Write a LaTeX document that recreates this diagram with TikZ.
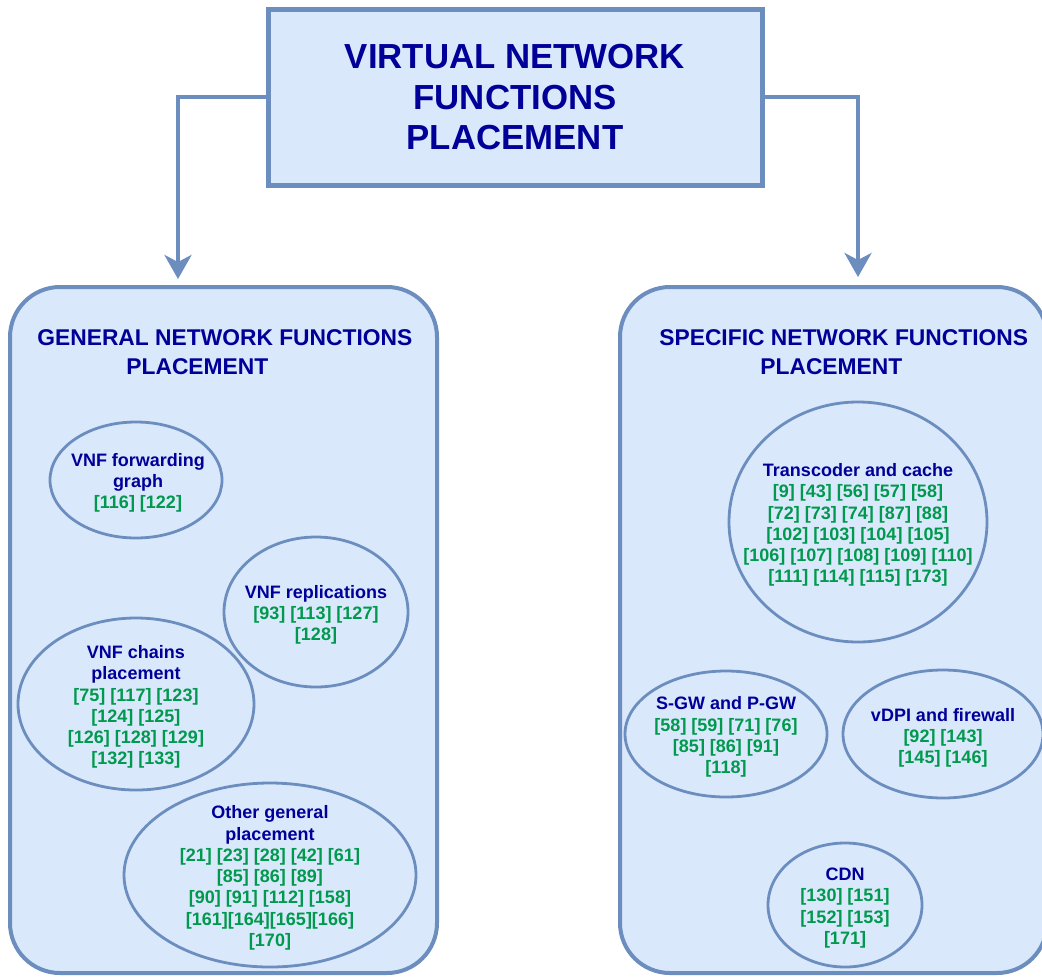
\documentclass[tikz,border=0pt]{standalone}
\usepackage{fontspec}
\setmainfont{Liberation Sans}
\usetikzlibrary{shapes.geometric,arrows.meta}

\definecolor{boxfill}{HTML}{DAE8FC}
\definecolor{boxline}{HTML}{6C8EBF}
\definecolor{titleblue}{HTML}{000099}
\definecolor{refgreen}{HTML}{00994D}
\newcommand{\reflist}[1]{\textcolor{refgreen}{#1}}

\tikzset{bigbox/.style = {rectangle, draw = boxline, fill = boxfill, line width = 2.5pt,
                          minimum width = 247pt, minimum height = 87.5pt, align = center,
                          text = titleblue, font = \fontsize{17.4}{20.25}\selectfont\bfseries},
         panel/.style = {rectangle, rounded corners = 25pt, draw = boxline, fill = boxfill,
                         line width = 2pt, minimum width = 213.5pt, minimum height = 343pt},
         ptitle/.style = {anchor = west, align = left, inner sep = 0pt, text = titleblue,
                          font = \fontsize{11.4}{14.5}\selectfont\bfseries},
         bubble/.style 2 args = {ellipse, draw = boxline, line width = 1.4pt, inner sep = 0pt,
                                 minimum width = #1, minimum height = #2},
         bubtxt/.style = {align = center, inner sep = 0pt, yshift = -1pt, text = titleblue,
                          font = \fontsize{9}{10.65}\selectfont\bfseries},
         conn/.style = {draw = boxline, line width = 2pt,
                        -{Stealth[length = 12pt, width = 13.5pt, inset = 3.5pt]}}
        }

\begin{document}
\begin{tikzpicture}[x = 0.5pt, y = -0.5pt]
\useasboundingbox (0,0) rectangle (1042,979);

% top box
\node[bigbox] (vnfp) at (515,97.5) {VIRTUAL NETWORK\\FUNCTIONS\\PLACEMENT};

% the two groups
\node[panel] (gen) at (223.5,630) {};
\node[panel] (spec) at (833.5,630) {};
\node[ptitle] (gentitle) at (37,352.5) {GENERAL NETWORK FUNCTIONS\\\hspace*{44.5pt}PLACEMENT};
\node[ptitle] (spectitle) at (659,352.5) {SPECIFIC NETWORK FUNCTIONS\\\hspace*{50.5pt}PLACEMENT};

\coordinate (gentip) at (178,279);
\coordinate (spectip) at (858,277);
\draw[conn] (vnfp.west) -| (gentip);
\draw[conn] (vnfp.east) -| (spectip);

% general placement
\node[bubble={86pt}{58pt}] (fwd) at (136,480) {};
\node[bubtxt] (fwdtxt) at (138,481) {VNF forwarding\\graph\\\reflist{[116] [122]}};

\node[bubble={92pt}{75pt}] (repl) at (316,612) {};
\node[bubtxt] (repltxt) at (316,613) {VNF replications\\\reflist{[93] [113] [127]}\\\reflist{[128]}};

\node[bubble={118pt}{86pt}] (chain) at (136,704) {};
\node[bubtxt] (chaintxt) at (136,705) {VNF chains\\placement\\\reflist{[75] [117] [123]}\\
      \reflist{[124] [125]}\\\reflist{[126] [128] [129]}\\\reflist{[132] [133]}};

\node[bubble={146pt}{92pt}] (other) at (270,875) {};
\node[bubtxt] (othertxt) at (270,876) {Other general\\placement\\\reflist{[21] [23] [28] [42] [61]}\\
      \reflist{[85] [86] [89]}\\\reflist{[90] [91] [112] [158]}\\\reflist{[161][164][165][166]}\\\reflist{[170]}};

% specific placement
\node[bubble={129pt}{120pt}] (trans) at (858,522) {};
\node[bubtxt] (transtxt) at (858,523) {Transcoder and cache\\\reflist{[9] [43] [56] [57] [58]}\\
      \reflist{[72] [73] [74] [87] [88]}\\\reflist{[102] [103] [104] [105]}\\
      \reflist{[106] [107] [108] [109] [110]}\\\reflist{[111] [114] [115] [173]}};

\node[bubble={101pt}{63pt}] (gw) at (726,734) {};
\node[bubtxt] (gwtxt) at (726,735) {S-GW and P-GW\\\reflist{[58] [59] [71] [76]}\\
      \reflist{[85] [86] [91]}\\\reflist{[118]}};

\node[bubble={100pt}{64pt}] (dpi) at (943,734) {};
\node[bubtxt] (dpitxt) at (943,736) {vDPI and firewall\\\reflist{[92] [143]}\\\reflist{[145] [146]}};

\node[bubble={77pt}{62pt}] (cdn) at (845,905) {};
\node[bubtxt] (cdntxt) at (845,906) {CDN\\\reflist{[130] [151]}\\\reflist{[152] [153]}\\\reflist{[171]}};
\end{tikzpicture}
\end{document}
